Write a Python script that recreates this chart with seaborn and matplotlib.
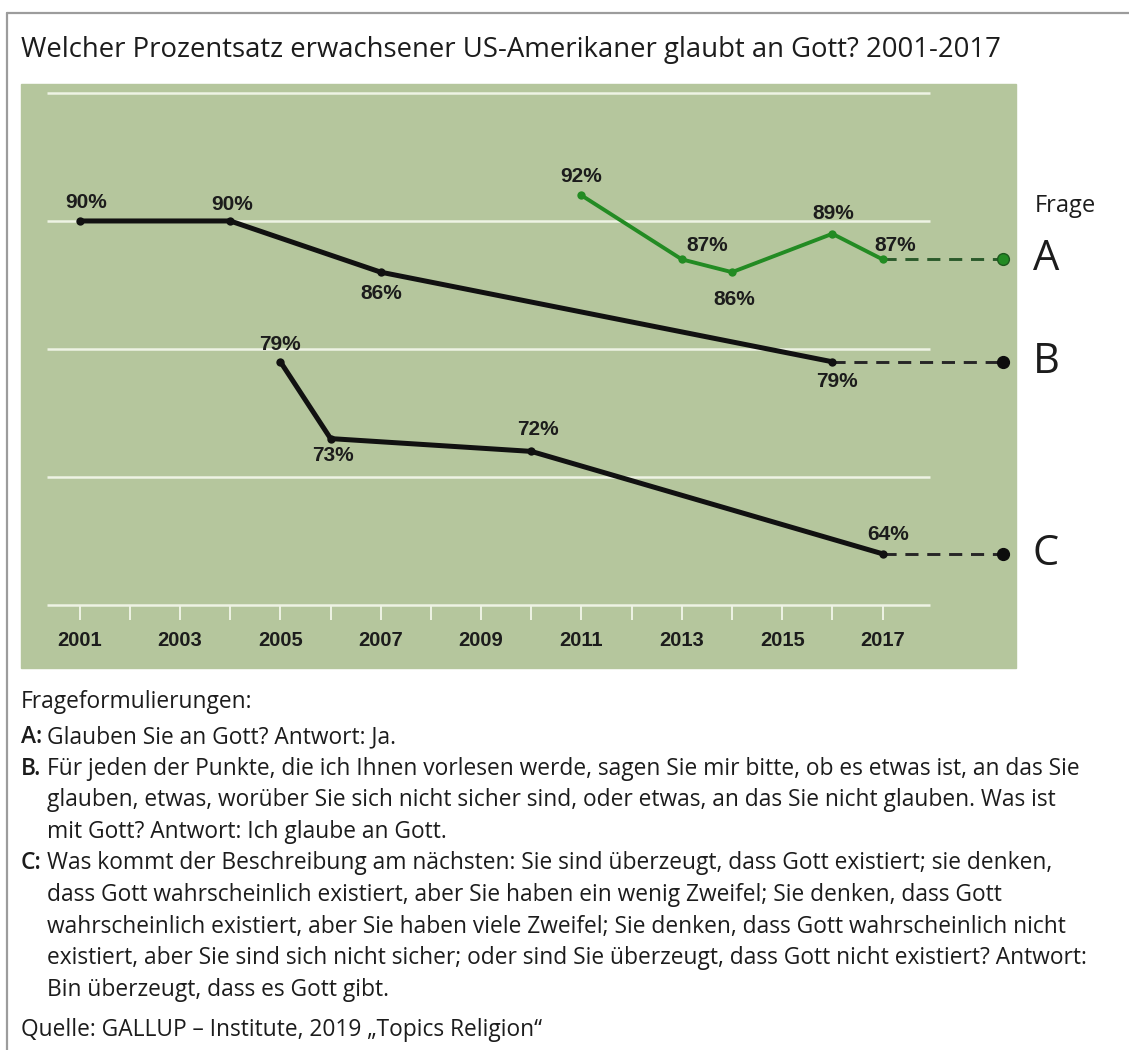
import matplotlib
matplotlib.use('Agg')
import matplotlib.pyplot as plt
from matplotlib.lines import Line2D
from matplotlib.patches import Rectangle
import seaborn as sns

# Daten
jahre_a = [2011, 2013, 2014, 2016, 2017]
werte_a = [92, 87, 86, 89, 87]
jahre_b = [2001, 2004, 2007, 2016]
werte_b = [90, 90, 86, 79]
jahre_c = [2005, 2006, 2010, 2017]
werte_c = [79, 73, 72, 64]
fragen = ['A', 'B', 'C']
jahres_ticks = list(range(2001, 2018))
jahres_labels = [str(j) if j % 2 == 1 else '' for j in jahres_ticks]
gitter = [60, 70, 80, 90, 100]

titel = "Welcher Prozentsatz erwachsener US-Amerikaner glaubt an Gott? 2001-2017"
texte = [
    ("A:", "Glauben Sie an Gott? Antwort: Ja."),
    ("B.", "Für jeden der Punkte, die ich Ihnen vorlesen werde, sagen Sie mir bitte, ob es etwas ist, an das Sie"),
    ("", "glauben, etwas, worüber Sie sich nicht sicher sind, oder etwas, an das Sie nicht glauben. Was ist"),
    ("", "mit Gott? Antwort: Ich glaube an Gott."),
    ("C:", "Was kommt der Beschreibung am nächsten: Sie sind überzeugt, dass Gott existiert; sie denken,"),
    ("", "dass Gott wahrscheinlich existiert, aber Sie haben ein wenig Zweifel; Sie denken, dass Gott"),
    ("", "wahrscheinlich existiert, aber Sie haben viele Zweifel; Sie denken, dass Gott wahrscheinlich nicht"),
    ("", "existiert, aber Sie sind sich nicht sicher; oder sind Sie überzeugt, dass Gott nicht existiert? Antwort:"),
    ("", "Bin überzeugt, dass es Gott gibt."),
]
quelle = "Quelle: GALLUP – Institute, 2019 „Topics Religion“"

# Lage der Prozent-Beschriftungen (Versatz in Pixeln)
lage_a = [(0, 19), (25, 14), (2, -27), (1, 20), (13, 14)]
lage_b = [(6, 18), (2, 16), (0, -21), (5, -20)]
lage_c = [(0, 17), (2, -17), (7, 22), (6, 19)]

sns.set_style('white')
plt.rcParams['font.family'] = ['Open Sans', 'DejaVu Sans']

W, H = 1129, 1050
gruen_bg = '#b5c69d'
gruen_linie = '#238b23'
gitter_farbe = '#eef3e4'
schrift = '#1c1c1c'
text_groesse = 16.4

fig = plt.figure(figsize=(W / 100, H / 100), dpi=100)

# Rahmen oben und links
fig.add_artist(Line2D([7 / W, 1], [1 - 13 / H, 1 - 13 / H], transform=fig.transFigure, color='#9c9c9c', lw=1.6))
fig.add_artist(Line2D([7 / W, 7 / W], [0, 1 - 13 / H], transform=fig.transFigure, color='#9c9c9c', lw=1.6))

# grüner Hintergrund
fig.add_artist(Rectangle((21 / W, 1 - 668 / H), (1016 - 21) / W, (668 - 84) / H,
                         transform=fig.transFigure, color=gruen_bg, zorder=0))

ax = fig.add_axes([21 / W, 1 - 605 / H, (1016 - 21) / W, (605 - 84) / H])
ax.set_facecolor('none')
ax.set_xlim(1999.83, 2019.66)
ax.set_ylim(60, 100.7)
for s in ax.spines.values():
    s.set_visible(False)

ax.hlines(gitter, 2000.35, 2017.95, color=gitter_farbe, lw=1.8, zorder=1, clip_on=False)

ax.set_xticks(jahres_ticks, jahres_labels)
ax.set_yticks([])
ax.tick_params(axis='x', bottom=True, length=11, width=1.4, color=gitter_farbe, pad=8,
               labelsize=14.5, labelcolor=schrift)
for t in ax.get_xticklabels():
    t.set_family('Liberation Sans')
    t.set_fontweight('bold')

ende_x = 2019.4
buchstabe_x = 2019.99

serien = [
    (jahre_a, werte_a, gruen_linie, 2.8, '#2b5a2b', lage_a),
    (jahre_b, werte_b, '#111111', 3.6, '#262626', lage_b),
    (jahre_c, werte_c, '#111111', 3.6, '#262626', lage_c),
]

for (jahre, werte, farbe, lw, dash_farbe, lage), frage in zip(serien, fragen):
    # gestrichelte Verlängerung bis zum Fragen-Buchstaben
    ax.plot([jahre[-1], ende_x], [werte[-1], werte[-1]], color=dash_farbe, lw=2.1,
            linestyle=(0, (4.5, 3)), zorder=2, clip_on=False)
    ax.plot([ende_x], [werte[-1]], 'o', ms=8.5, color=farbe if frage == 'A' else '#0d0d0d',
            mec='#1d5a1d' if frage == 'A' else '#0d0d0d', zorder=4, clip_on=False)
    sns.lineplot(x=jahre, y=werte, ax=ax, color=farbe, lw=lw, marker='o', markersize=6,
                 markeredgewidth=0, zorder=3)
    for j, w, (dx, dy) in zip(jahre, werte, lage):
        ax.annotate(f"{w}%", xy=(j, w), xytext=(dx, dy), textcoords='offset pixels',
                    ha='center', va='center', fontsize=15, fontweight='bold',
                    family='Liberation Sans', color=schrift, zorder=5)
    ax.text(buchstabe_x, werte[-1], frage, fontsize=30, va='center', ha='left',
            color=schrift, clip_on=False)

ax.annotate("Frage", xy=(buchstabe_x, werte_a[-1]), xytext=(2, 53), textcoords='offset pixels',
            fontsize=17, va='center', ha='left', color=schrift, annotation_clip=False)

# Titel
fig.text(21 / W, 1 - 50 / H, titel, fontsize=19.8, va='center', ha='left', color=schrift)

# Frageformulierungen
fig.text(21 / W, 1 - 702 / H, "Frageformulierungen:", fontsize=text_groesse, va='center', color=schrift)
for i, (kuerzel, zeile) in enumerate(texte):
    y = 1 - (737 + i * 31.6) / H
    if kuerzel:
        fig.text(21 / W, y, kuerzel, fontsize=text_groesse, va='center', fontweight='semibold', color=schrift)
    fig.text(47 / W, y, zeile, fontsize=text_groesse, va='center', color=schrift)
fig.text(21 / W, 1 - 1030 / H, quelle, fontsize=text_groesse, va='center', color=schrift)

fig.savefig('out.png', dpi=100)
